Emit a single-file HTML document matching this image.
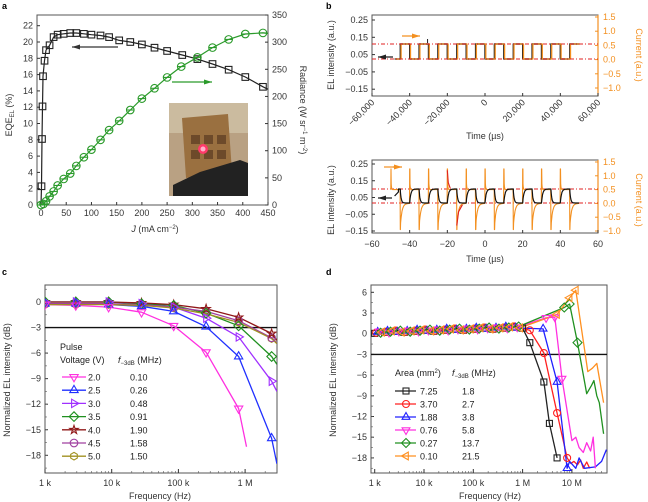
<!DOCTYPE html><html><head><meta charset="utf-8"><style>
html,body{margin:0;padding:0;background:#fff}
svg{display:block;font-family:"Liberation Sans",sans-serif}
</style></head><body>
<svg id="s" width="648" height="502" viewBox="0 0 648 502" xmlns="http://www.w3.org/2000/svg"></svg>
<script>
const S=document.getElementById('s');let h='';
function T(x,y,t,o={}){h+=`<text x="${x}" y="${y}" font-size="${o.fs||9}" fill="${o.c||'#333'}" text-anchor="${o.a||'middle'}" ${o.w?'font-weight="bold"':''} ${o.r!=null?`transform="rotate(${o.r} ${x} ${y})"`:''}>${t}</text>`;}
function L(x1,y1,x2,y2,c='#333',w=1,d=''){h+=`<line x1="${x1}" y1="${y1}" x2="${x2}" y2="${y2}" stroke="${c}" stroke-width="${w}" ${d?`stroke-dasharray="${d}"`:''}/>`;}
function P(pts,c,w=1.2){h+=`<polyline points="${pts.map(p=>p[0].toFixed(1)+','+p[1].toFixed(1)).join(' ')}" fill="none" stroke="${c}" stroke-width="${w}" stroke-linejoin="round"/>`;}
function M(t,x,y,c,r=3.8){const f=`fill="none" stroke="${c}" stroke-width="1.1"`;
 if(t=='sq')h+=`<rect x="${x-r+0.5}" y="${y-r+0.5}" width="${2*r-1}" height="${2*r-1}" ${f}/>`;
 else if(t=='ci')h+=`<circle cx="${x}" cy="${y}" r="${r}" ${f}/>`;
 else if(t=='cl'){h+=`<circle cx="${x}" cy="${y}" r="${r}" ${f}/>`;L(x-r,y,x+r,y,c,1.1);}
 else if(t=='dm')h+=`<polygon points="${x},${y-r-1} ${x+r+1},${y} ${x},${y+r+1} ${x-r-1},${y}" ${f}/>`;
 else{let a={up:-90,dn:90,lf:180,rt:0}[t];if(a===undefined){
  let n=t=='st'?5:(t=='hx'?6:5),pts=[];
  if(t=='st'){for(let i=0;i<10;i++){let rr=i%2?r*0.45:r+0.6,an=-Math.PI/2+i*Math.PI/5;pts.push((x+rr*Math.cos(an)).toFixed(1)+','+(y+rr*Math.sin(an)).toFixed(1));}}
  else{for(let i=0;i<n;i++){let an=-Math.PI/2+i*2*Math.PI/n;pts.push((x+r*Math.cos(an)).toFixed(1)+','+(y+r*Math.sin(an)).toFixed(1));}}
  h+=`<polygon points="${pts.join(' ')}" ${f}/>`;return;}
  let pts=[];for(let i=0;i<3;i++){let an=(a+i*120)*Math.PI/180;pts.push((x+(r+1)*Math.cos(an)).toFixed(1)+','+(y+(r+1)*Math.sin(an)).toFixed(1));}
  h+=`<polygon points="${pts.join(' ')}" ${f}/>`;}}
function box(x1,y1,x2,y2){h+=`<rect x="${x1}" y="${y1}" width="${x2-x1}" height="${y2-y1}" fill="none" stroke="#555" stroke-width="1"/>`;}
function arrow(x1,x2,y,c){L(x1,y,x2,y,c,1.3);let d=x2>x1?1:-1;h+=`<polygon points="${x2},${y} ${x2-d*8},${y-2.5} ${x2-d*8},${y+2.5}" fill="${c}"/>`;}

// ===== Panel a =====
T(2,9,'a',{a:'start',w:1,fs:9,c:'#000'});
const xa=J=>41+J*227/450, ya=E=>205-E*8.15, yr=R=>205-R*190/350;
h+=`<rect x="169" y="103" width="79" height="93" fill="#b9a183"/>`;
h+=`<rect x="169" y="103" width="79" height="30" fill="#cbbb9f"/>`;
h+=`<polygon points="182,118 228,114 232,172 186,178" fill="#9a7040"/>`;
for(let i=0;i<3;i++)for(let j=0;j<2;j++)h+=`<rect x="${191+i*13}" y="${135+j*15}" width="9" height="9" fill="#6d4a2a"/>`;
h+=`<circle cx="203" cy="149" r="5" fill="#ff3a6a"/><circle cx="203" cy="149" r="2.5" fill="#ffb0c8"/>`;
h+=`<polygon points="173,196 173,185 200,172 240,160 248,163 248,196" fill="#222"/>`;
box(37,15,268,205);
for(let E=0;E<=22;E+=2){L(37,ya(E),40,ya(E));T(33,ya(E)+3,E,{a:'end'});}
for(let R=0;R<=350;R+=50){L(265,yr(R),268,yr(R));T(272,yr(R)+3,R,{a:'start'});}
for(let J=0;J<=450;J+=50){L(xa(J),205,xa(J),202);T(xa(J),216,J);}
T(12,115,'EQE<tspan font-size="6" dy="2">EL</tspan><tspan dy="-2"> (%)</tspan>',{r:-90});
T(300,110,'Radiance (W sr<tspan font-size="6" dy="-3">−1</tspan><tspan dy="3"> m</tspan><tspan font-size="6" dy="-3">−2</tspan><tspan dy="3">)</tspan>',{r:90});
T(155,232,'<tspan font-style="italic">J</tspan> (mA cm<tspan font-size="6" dy="-3">−2</tspan><tspan dy="3">)</tspan>');
const eq=[[0,0],[1,2.3],[2,8.1],[3,12.1],[4,15.8],[7,17.7],[10,19],[17,19.6],[25,20.6],[33,20.9],[45,21],[58,21.1],[70,21.1],[85,21],[100,20.9],[118,20.8],[135,20.6],[155,20.2],[177,20],[200,19.7],[225,19.3],[250,18.9],[280,18.4],[310,17.9],[340,17.3],[372,16.6],[405,15.7],[440,14.5],[450,14.2]];
P(eq.map(p=>[xa(p[0]),ya(p[1])]),'#222');
eq.slice(1,-1).forEach(p=>M('sq',xa(p[0]),ya(p[1]),'#222'));
const ra=[[0,0],[5,2],[10,7],[17,16],[25,25],[33,36],[45,48],[58,58],[70,72],[85,88],[100,102],[118,120],[135,138],[155,155],[177,175],[200,196],[225,215],[250,235],[278,255],[310,272],[340,290],[372,305],[405,315],[440,317],[450,316]];
P(ra.map(p=>[xa(p[0]),yr(p[1])]),'#2a9a2a');
ra.slice(0,-1).forEach(p=>M('cl',xa(p[0]),yr(p[1]),'#2a9a2a'));
arrow(118,72,47,'#333');arrow(172,212,82,'#2a9a2a');

// ===== Panel b top =====
T(326,9,'b',{a:'start',w:1,c:'#000'});
const OR='#f39020';
function bPanel(y0,y1,yl,yR){
 box(372,y0,598,y1);
 [0.25,0.15,0.05,-0.05,-0.15].forEach(v=>{let y=yl(v);L(372,y,375,y);T(368,y+3,v<0?'−'+(-v).toFixed(2):v.toFixed(2),{a:'end'});});
 [1.5,1.0,0.5,0.0,-0.5,-1.0].forEach(v=>{let y=yR(v);L(595,y,598,y,OR);T(603,y+3,v<0?'−'+(-v).toFixed(1):v.toFixed(1),{a:'start',c:OR});});
 h+=`<line x1="598" y1="${y0}" x2="598" y2="${y1}" stroke="${OR}" stroke-width="1.2"/>`;
}
const yb1=v=>20+(0.25-v)*173, yR1=v=>17+(1.5-v)*28.4, xb1=t=>485+t*226/120000;
bPanel(15,96,yb1,yR1);
[-60000,-40000,-20000,0,20000,40000,60000].forEach(t=>{let x=xb1(t);L(x,96,x,93);let s=t==0?'0':(t<0?'−':'')+Math.abs(t).toLocaleString('en-US');T(x+3,103,s,{a:'end',r:-45});});
T(485,139,'Time (µs)');
T(334,55,'EL intensity (a.u.)',{r:-90});T(636,55,'Current (a.u.)',{r:90,c:OR});
let sq=[[xb1(-48000),59]];for(let n=0;n<10;n++){let a=xb1(-45000+n*10000),b=xb1(-40000+n*10000);if(n==9){sq.push([a,59],[a,44],[xb1(50000),44]);}else sq.push([a,59],[a,44],[b,44],[b,59]);}
P(sq,'#222',1.4);P(sq.map(p=>[p[0]+0.8,p[1]]),OR,1.3);
L(372,44,598,44,'#e02020',0.9,'4 2 1 2');L(372,59,598,59,'#e02020',0.9,'4 2 1 2');
L(xb1(-30500),43,xb1(-30500),39,'#222',1);
arrow(402,420,36,OR);arrow(393,378,57,'#222');

// ===== Panel b bottom =====
const yb2=v=>164+(0.25-v)*167.5, yR2=v=>162+(1.5-v)*27.6, xb2=t=>485+t*226/120;
bPanel(160,233,yb2,yR2);
[-60,-40,-20,0,20,40,60].forEach(t=>{let x=xb2(t);L(x,233,x,230);T(x,247,t<0?'−'+(-t):t);});
T(485,262,'Time (µs)');
T(334,200,'EL intensity (a.u.)',{r:-90});T(636,200,'Current (a.u.)',{r:90,c:OR});
L(372,189,598,189,'#e02020',0.9,'4 2 1 2');L(372,203,598,203,'#e02020',0.9,'4 2 1 2');
let oc=[],bl=[];
for(let t=-50;t<=50;t+=0.1){let ph=((t+50)%10+10)%10;let v;
 if(ph<5){v=ph<0.15?1.25:0.5+0.7*Math.exp(-ph*6);} else{let q=ph-5;v=q<0.15?-0.95:-0.9*Math.exp(-q*1.2);}
 if(t<-50+0.01)v=0.5;oc.push([xb2(t),yR2(v)]);
 let e=ph<5?(1-Math.exp(-ph*1.6)):Math.exp(-(ph-5)*2.2);
 if(t>=-46)bl.push([xb2(t),203-14*e]);}
P(oc,OR,1.1);
P([[xb2(-20),yR2(1.2)],[xb2(-19.5),yR2(0.75)],[xb2(-18.5),yR2(0.55)]],'#e02020',1.1);
P([[xb2(-15),yR2(-0.8)],[xb2(-14),yR2(-0.3)],[xb2(-12),yR2(-0.05)]],'#e02020',1.1);
P([[xb2(-48),196],[xb2(-46),192]].concat(bl),'#111',1.2);
arrow(393,402,167,OR);L(384,167,395,167,OR,1.2);arrow(392,378,198,'#222');

// ===== Panel c =====
T(2,275,'c',{a:'start',w:1,c:'#000'});
const xc=f=>45+(Math.log10(f)-3)*66.7, yc=d=>302-d*25.55/3;
h+=`<clipPath id="cc"><rect x="45" y="285" width="232" height="188"/></clipPath>`;
box(45,285,277,473);
for(let d=0;d>=-18;d-=3){L(45,yc(d),48,yc(d));T(41,yc(d)+3,d==0?'0':'−'+(-d),{a:'end'});}
for(let d=1.5;d>-20;d-=1.5)L(45,yc(d),47,yc(d),'#555',0.6);
[[1e3,'1 k'],[1e4,'10 k'],[1e5,'100 k'],[1e6,'1 M']].forEach(([f,s])=>{L(xc(f),473,xc(f),469);T(xc(f),486,s);});
for(let e=3;e<7;e++)for(let k=2;k<10;k++){let f=k*10**e;if(f<3e6)L(xc(f),473,xc(f),471,'#555',0.6);}
T(160,499,'Frequency (Hz)');T(10,380,'Normalized EL intensity (dB)',{r:-90});
L(45,yc(-3),277,yc(-3),'#111',1.4);
const fc=[1e3,2.9e3,9e3,2.8e4,8.5e4,2.6e5,8e5,2.5e6];
const cs=[
 ['dn','#ff30e0','2.0','0.10',[-0.3,-0.4,-0.6,-1.2,-2.8,-5.9,-12.5],[1.05e6,-17]],
 ['up','#2030ff','2.5','0.26',[-0.2,-0.2,-0.3,-0.5,-1.1,-2.9,-6.4,-16],[3e6,-19]],
 ['rt','#a030ff','3.0','0.48',[0,0,0,-0.2,-0.6,-1.9,-4.1,-9.3],[3e6,-10.5]],
 ['dm','#209020','3.5','0.91',[0,0,0,-0.2,-0.4,-1.3,-2.8,-6.4],[3e6,-7.3]],
 ['st','#901818','4.0','1.90',[0,0,0,-0.1,-0.3,-0.8,-1.8,-3.7],[3e6,-4.5]],
 ['cl','#a040a0','4.5','1.58',[-0.2,-0.2,-0.2,-0.3,-0.6,-1.1,-2.2,-4.2],[3e6,-4.8]],
 ['hx','#a09020','5.0','1.50',[-0.3,-0.3,-0.3,-0.4,-0.7,-1.4,-2.4,-4.3],[3e6,-4.9]]];
h+='<g clip-path="url(#cc)">';
cs.forEach(([m,c,,,v,end])=>{let pts=v.map((d,i)=>[xc(fc[i]),yc(d)]);pts.push([xc(end[0]),yc(end[1])]);P(pts,c,1.3);});
cs.slice().reverse().forEach(([m,c,,,v])=>v.forEach((d,i)=>M(m,xc(fc[i]),yc(d),c)));
h+='</g>';
T(60,350,'Pulse',{a:'start',c:'#222'});T(60,363,'Voltage (V)',{a:'start',c:'#222'});
T(118,363,'<tspan font-style="italic">f</tspan><tspan font-size="6" dy="2">−3dB</tspan><tspan dy="-2"> (MHz)</tspan>',{a:'start',c:'#222'});
cs.forEach(([m,c,a,b],i)=>{let y=377+i*13.2;L(62,y,86,y,c,1.3);M(m,74,y,c);T(88,y+3.5,a,{a:'start',c:'#222'});T(130,y+3.5,b,{a:'start',c:'#222'});});

// ===== Panel d =====
T(326,275,'d',{a:'start',w:1,c:'#000'});
const xd=f=>374.7+(Math.log10(f)-3)*49.3, yd=d=>292.3-(d-6)*20.7/3;
h+=`<clipPath id="cd"><rect x="371" y="285" width="236" height="188"/></clipPath>`;
box(371,285,607,473);
for(let d=6;d>=-18;d-=3){L(371,yd(d),374,yd(d));T(367,yd(d)+3,d<0?'−'+(-d):d,{a:'end'});}
for(let d=4.5;d>-20;d-=1.5)L(371,yd(d),373,yd(d),'#555',0.6);
[[1e3,'1 k'],[1e4,'10 k'],[1e5,'100 k'],[1e6,'1 M'],[1e7,'10 M']].forEach(([f,s])=>{L(xd(f),473,xd(f),469);T(xd(f),486,s);});
for(let e=3;e<8;e++)for(let k=2;k<10;k++){let f=k*10**e;if(f<5e7)L(xd(f),473,xd(f),471,'#555',0.6);}
T(490,499,'Frequency (Hz)');T(336,380,'Normalized EL intensity (dB)',{r:-90});
L(371,yd(-3),607,yd(-3),'#111',1.4);
function flat(seed,off,upto){let a=[];for(let k=0;;k++){let f=10**(3+k*0.2+off);if(f>upto)break;let d=0.05+(Math.log10(f)-3)*0.25+((k*7+seed)%3)*0.1;a.push([f,d]);}return a;}
const ds=[
 ['sq','#222','7.25','1.8',0,[[1.4e6,-1.3],[2.7e6,-7],[3.5e6,-13],[5e6,-18]]],
 ['ci','#ff2020','3.70','2.7',0.03,[[1.4e6,0.5],[2.7e6,-2.8],[5e6,-11.5],[8e6,-18],[9.5e6,-18.8],[11e6,-18.5],[13e6,-19],[15e6,-18.3],[17e6,-19.5],[20e6,-18.6],[23e6,-19.5]]],
 ['up','#2020ff','1.88','3.8',0.06,[[2.6e6,0.7],[5e6,-7],[8e6,-19.5],[9e6,-18.5],[12e6,-19.5],[14e6,-18],[18e6,-19.5],[30e6,-19.3],[40e6,-18.5],[50e6,-16.8]]],
 ['dn','#ff30e0','0.76','5.8',0.09,[[3e6,2.3],[4.5e6,2.4],[6.3e6,-6.5],[10e6,-15.5],[12e6,-15],[14e6,-16.5],[17e6,-17.2],[20e6,-15.8],[24e6,-17],[27e6,-15],[30e6,-19.5]]],
 ['dm','#209020','0.27','13.7',0.12,[[7e6,3.8],[9e6,4.3],[13e6,-1.3],[20e6,-8.7],[25e6,-7.5],[28e6,-6.8],[32e6,-9],[36e6,-10],[44e6,-14.5]]],
 ['lf','#ff9020','0.10','21.5',0.15,[[5e6,2.8],[9e6,5.2],[12e6,6.3],[21e6,-5.5],[26e6,-5],[32e6,-4.3],[44e6,-10]]]];
h+='<g clip-path="url(#cd)">';
ds.forEach(([m,c,,,off,tail])=>{let fl=flat(off*30,off,1.05e6);let pts=fl.concat(tail);P(pts.map(p=>[xd(p[0]),yd(p[1])]),c,1.3);});
ds.forEach(([m,c,,,off,tail])=>{let fl=flat(off*30,off,1.05e6);fl.forEach(p=>M(m,xd(p[0]),yd(p[1]),c,3.5));
 [tail[0],tail[1],tail[2],tail[3]].forEach((p,i)=>{if(p&&(i<3||m=='sq'||m=='ci'))M(m,xd(p[0]),yd(p[1]),c,3.5);});});
h+='</g>';
T(395,376,'Area (mm<tspan font-size="6" dy="-3">2</tspan><tspan dy="3">)</tspan>',{a:'start',c:'#222'});
T(452,376,'<tspan font-style="italic">f</tspan><tspan font-size="6" dy="2">−3dB</tspan><tspan dy="-2"> (MHz)</tspan>',{a:'start',c:'#222'});
ds.forEach(([m,c,a,b],i)=>{let y=391+i*13;L(395,y,416,y,c,1.3);M(m,406,y,c,3.5);T(420,y+3.5,a,{a:'start',c:'#222'});T(462,y+3.5,b,{a:'start',c:'#222'});});

S.innerHTML=h;
</script>
</body></html>
